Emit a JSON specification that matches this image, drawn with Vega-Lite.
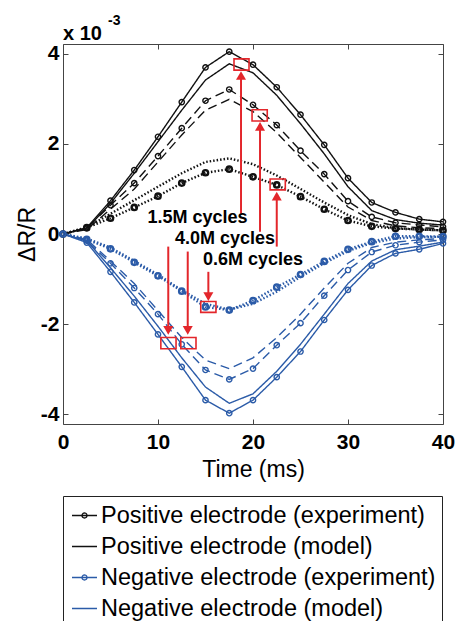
{
  "$schema": "https://vega.github.io/schema/vega-lite/v6.json",
  "width": 380,
  "height": 380,
  "autosize": {"type": "none"},
  "padding": {"left": 63, "top": 44, "right": 12, "bottom": 197},
  "background": "white",
  "config": {"view": {"stroke": null}, "font": "Liberation Sans"},
  "datasets": {
    "curves": [
      {"t": 0, "pe15": 0, "pm15": 0, "pe40": 0, "pm40": 0, "pe06": 0, "pm06": 0, "ne15": 0, "nm15": 0, "ne40": 0, "nm40": 0, "ne06": 0, "nm06": 0},
      {"t": 2.5, "pe15": 0.14, "pm15": 0.12, "pe40": 0.13, "pm40": 0.10, "pe06": 0.14, "pm06": 0.15, "ne15": -0.19, "nm15": -0.15, "ne40": -0.15, "nm40": -0.12, "ne06": -0.12, "nm06": -0.10},
      {"t": 5, "pe15": 0.74, "pm15": 0.68, "pe40": 0.64, "pm40": 0.55, "pe06": 0.35, "pm06": 0.45, "ne15": -0.84, "nm15": -0.75, "ne40": -0.65, "nm40": -0.60, "ne06": -0.33, "nm06": -0.30},
      {"t": 7.5, "pe15": 1.42, "pm15": 1.35, "pe40": 1.13, "pm40": 1.00, "pe06": 0.59, "pm06": 0.75, "ne15": -1.52, "nm15": -1.38, "ne40": -1.20, "nm40": -1.10, "ne06": -0.63, "nm06": -0.60},
      {"t": 10, "pe15": 2.16, "pm15": 2.05, "pe40": 1.73, "pm40": 1.60, "pe06": 0.84, "pm06": 1.05, "ne15": -2.23, "nm15": -2.05, "ne40": -1.78, "nm40": -1.70, "ne06": -0.93, "nm06": -0.90},
      {"t": 12.5, "pe15": 2.93, "pm15": 2.75, "pe40": 2.35, "pm40": 2.20, "pe06": 1.13, "pm06": 1.35, "ne15": -2.95, "nm15": -2.75, "ne40": -2.45, "nm40": -2.30, "ne06": -1.27, "nm06": -1.25},
      {"t": 15, "pe15": 3.70, "pm15": 3.42, "pe40": 2.96, "pm40": 2.75, "pe06": 1.36, "pm06": 1.60, "ne15": -3.69, "nm15": -3.40, "ne40": -3.02, "nm40": -2.80, "ne06": -1.62, "nm06": -1.55},
      {"t": 17.5, "pe15": 4.05, "pm15": 3.78, "pe40": 3.21, "pm40": 2.99, "pe06": 1.44, "pm06": 1.68, "ne15": -3.98, "nm15": -3.76, "ne40": -3.23, "nm40": -2.99, "ne06": -1.69, "nm06": -1.68},
      {"t": 20, "pe15": 3.76, "pm15": 3.58, "pe40": 2.87, "pm40": 2.72, "pe06": 1.27, "pm06": 1.55, "ne15": -3.69, "nm15": -3.55, "ne40": -2.99, "nm40": -2.75, "ne06": -1.48, "nm06": -1.55},
      {"t": 22.5, "pe15": 3.26, "pm15": 3.08, "pe40": 2.42, "pm40": 2.25, "pe06": 1.09, "pm06": 1.30, "ne15": -3.18, "nm15": -3.05, "ne40": -2.47, "nm40": -2.30, "ne06": -1.18, "nm06": -1.28},
      {"t": 25, "pe15": 2.65, "pm15": 2.45, "pe40": 1.85, "pm40": 1.70, "pe06": 0.83, "pm06": 1.00, "ne15": -2.61, "nm15": -2.45, "ne40": -1.98, "nm40": -1.78, "ne06": -0.90, "nm06": -0.95},
      {"t": 27.5, "pe15": 1.98, "pm15": 1.78, "pe40": 1.33, "pm40": 1.15, "pe06": 0.55, "pm06": 0.70, "ne15": -1.91, "nm15": -1.78, "ne40": -1.37, "nm40": -1.20, "ne06": -0.61, "nm06": -0.65},
      {"t": 30, "pe15": 1.24, "pm15": 1.05, "pe40": 0.73, "pm40": 0.60, "pe06": 0.30, "pm06": 0.42, "ne15": -1.24, "nm15": -1.10, "ne40": -0.80, "nm40": -0.65, "ne06": -0.34, "nm06": -0.38},
      {"t": 32.5, "pe15": 0.70, "pm15": 0.52, "pe40": 0.38, "pm40": 0.30, "pe06": 0.17, "pm06": 0.22, "ne15": -0.70, "nm15": -0.60, "ne40": -0.40, "nm40": -0.30, "ne06": -0.17, "nm06": -0.20},
      {"t": 35, "pe15": 0.48, "pm15": 0.32, "pe40": 0.25, "pm40": 0.18, "pe06": 0.12, "pm06": 0.13, "ne15": -0.43, "nm15": -0.35, "ne40": -0.25, "nm40": -0.18, "ne06": -0.05, "nm06": -0.10},
      {"t": 37.5, "pe15": 0.33, "pm15": 0.24, "pe40": 0.20, "pm40": 0.14, "pe06": 0.10, "pm06": 0.10, "ne15": -0.34, "nm15": -0.27, "ne40": -0.18, "nm40": -0.13, "ne06": -0.05, "nm06": -0.07},
      {"t": 40, "pe15": 0.27, "pm15": 0.20, "pe40": 0.16, "pm40": 0.12, "pe06": 0.08, "pm06": 0.08, "ne15": -0.21, "nm15": -0.18, "ne40": -0.13, "nm40": -0.10, "ne06": -0.06, "nm06": -0.06}
    ],
    "series": [
      {"s": "pe15", "label": "Positive electrode (experiment)", "dash": "solid", "mk": "exp"},
      {"s": "pm15", "label": "Positive electrode (model)", "dash": "solid", "mk": "model"},
      {"s": "pe40", "label": "Positive electrode (experiment)", "dash": "dashed", "mk": "exp"},
      {"s": "pm40", "label": "Positive electrode (model)", "dash": "dashed", "mk": "model"},
      {"s": "pe06", "label": "Positive electrode (experiment)", "dash": "dotted", "mk": "exp"},
      {"s": "pm06", "label": "Positive electrode (model)", "dash": "dotted", "mk": "model"},
      {"s": "ne15", "label": "Negative electrode (experiment)", "dash": "solid", "mk": "exp"},
      {"s": "nm15", "label": "Negative electrode (model)", "dash": "solid", "mk": "model"},
      {"s": "ne40", "label": "Negative electrode (experiment)", "dash": "dashed", "mk": "exp"},
      {"s": "nm40", "label": "Negative electrode (model)", "dash": "dashed", "mk": "model"},
      {"s": "ne06", "label": "Negative electrode (experiment)", "dash": "dotted", "mk": "exp"},
      {"s": "nm06", "label": "Negative electrode (model)", "dash": "dotted", "mk": "model"}
    ],
    "boxes": [
      {"x1": 18.0, "x2": 19.58, "y1": 3.89, "y2": 3.64},
      {"x1": 19.9, "x2": 21.5, "y1": 2.76, "y2": 2.51},
      {"x1": 21.8, "x2": 23.4, "y1": 1.22, "y2": 0.98},
      {"x1": 14.5, "x2": 16.1, "y1": -1.50, "y2": -1.74},
      {"x1": 10.3, "x2": 11.9, "y1": -2.30, "y2": -2.55},
      {"x1": 12.4, "x2": 14.0, "y1": -2.30, "y2": -2.55}
    ],
    "arrows": [
      {"x": 18.74, "base": 0.45, "head": 3.52, "dir": "up"},
      {"x": 20.74, "base": 0.05, "head": 2.39, "dir": "up"},
      {"x": 22.5, "base": -0.28, "head": 0.84, "dir": "up"},
      {"x": 15.3, "base": -0.84, "head": -1.39, "dir": "down"},
      {"x": 11.08, "base": -0.28, "head": -2.14, "dir": "down"},
      {"x": 13.13, "base": -0.39, "head": -2.14, "dir": "down"}
    ],
    "labels": [
      {"x": 14.16, "y": 0.35, "text": "1.5M cycles"},
      {"x": 17.05, "y": -0.12, "text": "4.0M cycles"},
      {"x": 20.0, "y": -0.58, "text": "0.6M cycles"}
    ],
    "mult": [{"x": 0, "y": 4.31, "text": "x 10"}],
    "expo": [{"x": 4.74, "y": 4.64, "text": "-3"}]
  },
  "resolve": {"axis": {"x": "independent", "y": "independent"}},
  "layer": [
    {
      "data": {"name": "curves"},
      "transform": [
        {"fold": ["pe15", "pm15", "pe40", "pm40", "pe06", "pm06", "ne15", "nm15", "ne40", "nm40", "ne06", "nm06"], "as": ["s", "v"]},
        {"lookup": "s", "from": {"data": {"name": "series"}, "key": "s", "fields": ["label", "dash", "mk"]}}
      ],
      "mark": {"type": "line"},
      "encoding": {
        "x": {"field": "t", "type": "quantitative", "scale": {"domain": [0, 40], "nice": false},
          "axis": {"orient": "bottom", "values": [0, 10, 20, 30, 40], "format": "d", "title": "Time (ms)", "titleFontSize": 23, "titleFontWeight": "normal", "titleColor": "black", "titlePadding": 6, "labelFontSize": 21, "labelFontWeight": "bold", "labelColor": "black", "labelPadding": 12, "labelFlush": false, "tickSize": -5, "tickColor": "#444", "domainColor": "#444", "grid": false}},
        "y": {"field": "v", "type": "quantitative", "scale": {"domain": [-4.22, 4.22], "nice": false, "zero": false},
          "axis": {"orient": "left", "values": [-4, -2, 0, 2, 4], "format": "d", "labelExpr": "replace(datum.label, '\u2212', '-')", "title": "\u0394R/R", "titleFontSize": 23, "titleFontWeight": "normal", "titleColor": "black", "titlePadding": 1, "labelFontSize": 21, "labelFontWeight": "bold", "labelColor": "black", "labelPadding": 9, "labelFlush": false, "tickSize": -5, "tickColor": "#444", "domainColor": "#444", "grid": false}},
        "color": {"field": "label", "type": "nominal",
          "scale": {"domain": ["Positive electrode (experiment)", "Positive electrode (model)", "Negative electrode (experiment)", "Negative electrode (model)"], "range": ["#111111", "#111111", "#2b5ba8", "#2b5ba8"]},
          "legend": {"title": null, "orient": "none", "legendX": 0, "legendY": 452, "strokeColor": "#222", "padding": 6, "symbolSize": 625, "symbolOffset": 2, "symbolStrokeWidth": 1.3, "labelFont": "Liberation Sans", "labelFontSize": 23.5, "labelColor": "black", "labelOffset": 3, "labelLimit": 600, "rowPadding": 6,
            "encode": {"symbols": {"update": {"shape": {"signal": "indexof(datum.value, 'experiment') >= 0 ? 'M-1,0L1,0M-0.2,0A0.2,0.2,0,1,1,0.2,0A0.2,0.2,0,1,1,-0.2,0' : 'M-1,0L1,0'"}, "fill": {"value": "transparent"}, "strokeDash": {"value": [1, 0]}}}}}},
        "detail": {"field": "s"},
        "strokeDash": {"field": "dash", "type": "nominal", "scale": {"domain": ["solid", "dashed", "dotted"], "range": [[1, 0], [9, 5], [1.5, 2]]}, "legend": null},
        "strokeWidth": {"field": "dash", "type": "nominal", "scale": {"type": "ordinal", "domain": ["solid", "dashed", "dotted"], "range": [1.4, 1.4, 2.4]}, "legend": null}
      }
    },
    {
      "data": {"name": "curves"},
      "transform": [
        {"fold": ["pe15", "pm15", "pe40", "pm40", "pe06", "pm06", "ne15", "nm15", "ne40", "nm40", "ne06", "nm06"], "as": ["s", "v"]},
        {"lookup": "s", "from": {"data": {"name": "series"}, "key": "s", "fields": ["label", "dash", "mk"]}},
        {"filter": "datum.mk == 'exp'"}
      ],
      "mark": {"type": "point", "filled": false, "size": 28, "opacity": 1},
      "encoding": {
        "x": {"field": "t", "type": "quantitative", "axis": {"orient": "top", "values": [0, 10, 20, 30, 40], "labels": false, "title": null, "tickSize": -5, "tickColor": "#444", "domainColor": "#444", "grid": false}},
        "y": {"field": "v", "type": "quantitative", "axis": {"orient": "right", "values": [-4, -2, 0, 2, 4], "labels": false, "title": null, "tickSize": -5, "tickColor": "#444", "domainColor": "#444", "grid": false}},
        "color": {"field": "label", "type": "nominal", "legend": null},
        "strokeWidth": {"field": "dash", "type": "nominal", "scale": {"type": "ordinal", "domain": ["solid", "dashed", "dotted"], "range": [1.2, 1.2, 2.8]}, "legend": null}
      }
    },
    {
      "data": {"name": "boxes"},
      "mark": {"type": "rect", "fillOpacity": 0, "stroke": "#e3262b", "strokeWidth": 1.6},
      "encoding": {
        "x": {"field": "x1", "type": "quantitative", "axis": null},
        "x2": {"field": "x2"},
        "y": {"field": "y1", "type": "quantitative", "axis": null},
        "y2": {"field": "y2"}
      }
    },
    {
      "data": {"name": "arrows"},
      "mark": {"type": "rule", "color": "#e3262b", "strokeWidth": 2},
      "encoding": {
        "x": {"field": "x", "type": "quantitative", "axis": null},
        "y": {"field": "base", "type": "quantitative", "axis": null},
        "y2": {"field": "head"}
      }
    },
    {
      "data": {"name": "arrows"},
      "mark": {"type": "point", "filled": true, "size": 100, "color": "#e3262b", "opacity": 1},
      "encoding": {
        "x": {"field": "x", "type": "quantitative", "axis": null},
        "y": {"field": "head", "type": "quantitative", "axis": null},
        "shape": {"field": "dir", "type": "nominal", "scale": {"domain": ["up", "down"], "range": ["triangle-up", "triangle-down"]}, "legend": null}
      }
    },
    {
      "data": {"name": "labels"},
      "mark": {"type": "text", "fontSize": 18, "fontWeight": "bold", "color": "black", "align": "center", "baseline": "middle"},
      "encoding": {
        "x": {"field": "x", "type": "quantitative", "axis": null},
        "y": {"field": "y", "type": "quantitative", "axis": null},
        "text": {"field": "text"}
      }
    },
    {
      "data": {"name": "mult"},
      "mark": {"type": "text", "fontSize": 20, "fontWeight": "bold", "color": "black", "align": "left", "baseline": "alphabetic"},
      "encoding": {
        "x": {"field": "x", "type": "quantitative", "axis": null},
        "y": {"field": "y", "type": "quantitative", "axis": null},
        "text": {"field": "text"}
      }
    },
    {
      "data": {"name": "expo"},
      "mark": {"type": "text", "fontSize": 14, "fontWeight": "bold", "color": "black", "align": "left", "baseline": "alphabetic"},
      "encoding": {
        "x": {"field": "x", "type": "quantitative", "axis": null},
        "y": {"field": "y", "type": "quantitative", "axis": null},
        "text": {"field": "text"}
      }
    }
  ]
}
